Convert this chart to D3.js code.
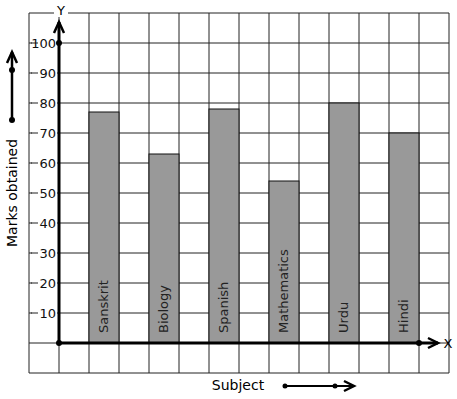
<!DOCTYPE html>
<html>
<head>
<meta charset="utf-8">
<script src="https://cdn.jsdelivr.net/npm/d3@7"></script>
<style>
  body { margin: 0; background: #fff; }
  text { font-family: "DejaVu Sans", sans-serif; }
</style>
</head>
<body>
<div id="chart"></div>
<script>
var subjects = ['Sanskrit', 'Biology', 'Spanish', 'Mathematics', 'Urdu', 'Hindi'];
var marks = [77, 63, 78, 54, 80, 70];
var yTicks = [10, 20, 30, 40, 50, 60, 70, 80, 90, 100];

var w = 457, h = 399,
    cell = 30,
    gridLeft = 29, gridTop = 13,
    cols = 14, rows = 12,
    originX = 59, originY = 343;

var svg = d3.select('#chart').append('svg')
    .attr('width', w)
    .attr('height', h);

// marks scale: 0 at the x axis, each grid row = 10
var y = d3.scaleLinear().domain([0, 100]).range([originY, originY - 10 * cell]);
// each subject takes one cell, with an empty cell between
var x = d3.scaleBand()
    .domain(subjects)
    .range([originX, originX + subjects.length * 2 * cell])
    .paddingInner(0.5).paddingOuter(0.25).align(1);

// grid
for (var c = 0; c <= cols; c++) {
  svg.append('line')
      .attr('x1', gridLeft + c * cell).attr('x2', gridLeft + c * cell)
      .attr('y1', gridTop).attr('y2', gridTop + rows * cell)
      .style('stroke', '#222').style('stroke-width', 1);
}
for (var r = 0; r <= rows; r++) {
  svg.append('line')
      .attr('x1', gridLeft).attr('x2', gridLeft + cols * cell)
      .attr('y1', gridTop + r * cell).attr('y2', gridTop + r * cell)
      .style('stroke', '#222').style('stroke-width', 1);
}

// bars
svg.selectAll('rect.bar').data(subjects).enter()
  .append('rect')
    .attr('class', 'bar')
    .attr('x', function(d) { return x(d); })
    .attr('width', x.bandwidth())
    .attr('y', function(d, i) { return y(marks[i]); })
    .attr('height', function(d, i) { return y(0) - y(marks[i]); })
    .style('fill', '#999')
    .style('stroke', '#111')
    .style('stroke-width', 1);

svg.selectAll('text.sub').data(subjects).enter()
  .append('text')
    .attr('class', 'sub')
    .attr('transform', function(d) {
      return 'translate(' + (x(d) + x.bandwidth() / 2 + 4) + ',' + (originY - 10) + ') rotate(-90)';
    })
    .attr('font-size', 13)
    .style('fill', '#222')
    .text(function(d) { return d; });

// y tick labels with white backing
var ticks = svg.selectAll('g.tick').data(yTicks).enter()
  .append('g')
    .attr('transform', function(d) { return 'translate(0,' + y(d) + ')'; });
ticks.append('rect')
    .attr('x', 32).attr('y', -7)
    .attr('width', originX - 34).attr('height', 14)
    .style('fill', '#fff');
ticks.append('line')
    .attr('x1', 31).attr('x2', 38)
    .style('stroke', '#222');
ticks.append('text')
    .attr('x', 56).attr('dy', '0.35em')
    .attr('text-anchor', 'end')
    .attr('font-size', 13)
    .style('fill', '#111')
    .text(function(d) { return d; });

// axes
function chevron(px, py, dir) {
  var p = dir === 'up'
    ? [[px - 5, py + 11], [px, py], [px + 5, py + 11]]
    : [[px - 10, py - 5], [px, py], [px - 10, py + 5]];
  svg.append('path')
      .attr('d', d3.line()(p))
      .style('fill', 'none').style('stroke', '#000').style('stroke-width', 2.5);
}

svg.append('line')
    .attr('x1', originX).attr('x2', originX)
    .attr('y1', originY).attr('y2', 22)
    .style('stroke', '#000').style('stroke-width', 3);
chevron(originX, 22, 'up');
svg.append('line')
    .attr('x1', originX).attr('x2', 438)
    .attr('y1', originY).attr('y2', originY)
    .style('stroke', '#000').style('stroke-width', 3);
chevron(438, originY, 'right');

[[originX, originY], [originX, y(100)], [x('Hindi') + x.bandwidth(), originY]].forEach(function(p) {
  svg.append('circle').attr('cx', p[0]).attr('cy', p[1]).attr('r', 3).style('fill', '#000');
});

svg.append('rect').attr('x', 54).attr('y', 4).attr('width', 14).attr('height', 13).style('fill', '#fff');
svg.append('text').attr('x', 61).attr('y', 15).attr('text-anchor', 'middle')
    .attr('font-size', 13).text('Y');
svg.append('text').attr('x', 448).attr('y', originY + 5).attr('text-anchor', 'middle')
    .attr('font-size', 13).text('X');

// axis titles with their arrows
svg.append('text')
    .attr('transform', 'translate(17,' + 193 + ') rotate(-90)')
    .attr('text-anchor', 'middle')
    .attr('font-size', 14)
    .text('Marks obtained');
svg.append('line')
    .attr('x1', 12).attr('x2', 12).attr('y1', 120).attr('y2', 52)
    .style('stroke', '#000').style('stroke-width', 2.5);
chevron(12, 52, 'up');
svg.append('circle').attr('cx', 12).attr('cy', 120).attr('r', 3).style('fill', '#000');
svg.append('circle').attr('cx', 12).attr('cy', 70).attr('r', 3).style('fill', '#000');

svg.append('text')
    .attr('x', 238).attr('y', 390)
    .attr('text-anchor', 'middle')
    .attr('font-size', 14)
    .text('Subject');
svg.append('line')
    .attr('x1', 285).attr('x2', 354).attr('y1', 386).attr('y2', 386)
    .style('stroke', '#000').style('stroke-width', 2);
chevron(354, 386, 'right');
svg.append('circle').attr('cx', 285).attr('cy', 386).attr('r', 2.5).style('fill', '#000');
svg.append('circle').attr('cx', 335).attr('cy', 386).attr('r', 2.5).style('fill', '#000');
</script>
</body>
</html>
